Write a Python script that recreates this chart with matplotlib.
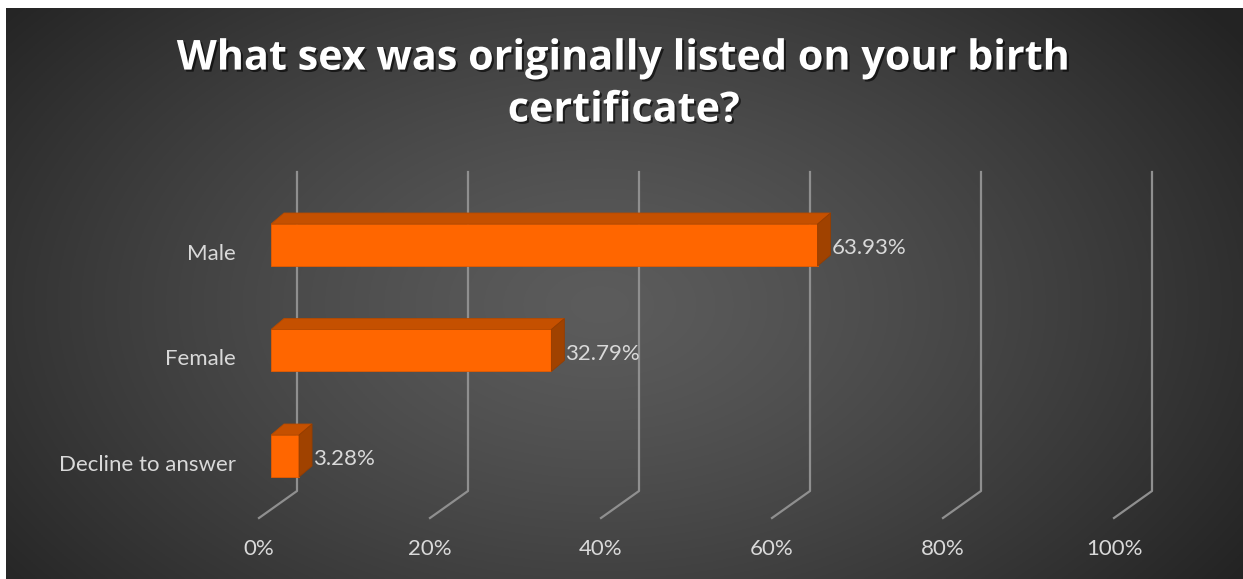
import numpy as np
import matplotlib.pyplot as plt
from matplotlib.patches import Polygon
import matplotlib.patheffects as pe

categories = ['Male', 'Female', 'Decline to answer']
shares = [63.93, 32.79, 3.28]
ticks = [0, 20, 40, 60, 80, 100]
title = 'What sex was originally listed on your birth\ncertificate?'

W, H = 1243, 579
fig = plt.figure(figsize=(W / 100, H / 100), dpi=100)
fig.patch.set_facecolor('white')
plt.rcParams['font.family'] = ['Lato', 'DejaVu Sans']

# radial grey background
bg = fig.add_axes([6 / W, 0, 1 - 6 / W, 1 - 8 / H])
yy, xx = np.mgrid[0:1:300j, 0:1:600j]
r = np.sqrt(((xx - 0.48) / 0.62) ** 2 + ((yy - 0.52) / 0.85) ** 2)
g = 0.36 - 0.22 * np.clip(r, 0, 1) ** 1.3
bg.imshow(np.dstack([g, g, g]), extent=[0, 1, 0, 1], aspect='auto')
bg.axis('off')

# main axes: x = percent at front plane, y = category index
px_x = 855 / 100
px_y = 105.5
ax = fig.add_axes([271 / W, (H - 530) / H, 855 / W, 370 / H])
ax.set_xlim(0, 100)
ax.set_ylim((530 - 245) / px_y, (160 - 245) / px_y)
ax.axis('off')
ax.patch.set_alpha(0)

txt_c = '#d9d9d9'
fs = 16
grid_c = '#8f8f8f'
back_dx = 26 / px_x
front_dx = -12 / px_x
g_top = (172 - 245) / px_y
g_floor = (491 - 245) / px_y
g_front = (518 - 245) / px_y
for t in ticks:
    ax.plot([t + back_dx, t + back_dx, t + front_dx], [g_top, g_floor, g_front],
            color=grid_c, lw=1.6, clip_on=False, zorder=1)
    ax.text(t + front_dx, (549 - 245) / px_y, f'{t}%', ha='center', va='center',
            color=txt_c, fontsize=fs, clip_on=False)

h = 42 / px_y
dx = 13 / px_x
dy = -11 / px_y
y = np.arange(len(categories))
ax.barh(y, shares, height=h, color='#ff6600', edgecolor='#e55b00', lw=0.6, zorder=3)
for i, v in zip(y, shares):
    top = i - h / 2
    bot = i + h / 2
    ax.add_patch(Polygon([(0, top), (dx, top + dy), (v + dx, top + dy), (v, top)],
                         closed=True, fc='#c55000', ec='#b54a00', lw=0.6, zorder=3))
    ax.add_patch(Polygon([(v, top), (v + dx, top + dy), (v + dx, bot + dy), (v, bot)],
                         closed=True, fc='#a04200', ec='#953d00', lw=0.6, zorder=3))
    ax.text(v + dx + 0.1, i + 0.03, f'{v:.2f}%', ha='left', va='center',
            color=txt_c, fontsize=fs, zorder=4)
    ax.text(-35 / px_x, i + 0.085, categories[i], ha='right', va='center',
            color=txt_c, fontsize=fs, clip_on=False)

ttl = fig.text(624 / W, 1 - 85 / H, title, ha='center', va='center', color='white',
               fontsize=26, fontweight='bold', family=['Open Sans', 'DejaVu Sans'],
               linespacing=1.35,
               path_effects=[pe.withSimplePatchShadow(offset=(1.5, -1.5),
                                                      shadow_rgbFace='black', alpha=0.6)])
# scale title so the first line spans about 900 px like the original
fig.canvas.draw()
wpx = ttl.get_window_extent().width
ttl.set_fontsize(26 * 895 / wpx)

fig.savefig('out.png', dpi=100)
